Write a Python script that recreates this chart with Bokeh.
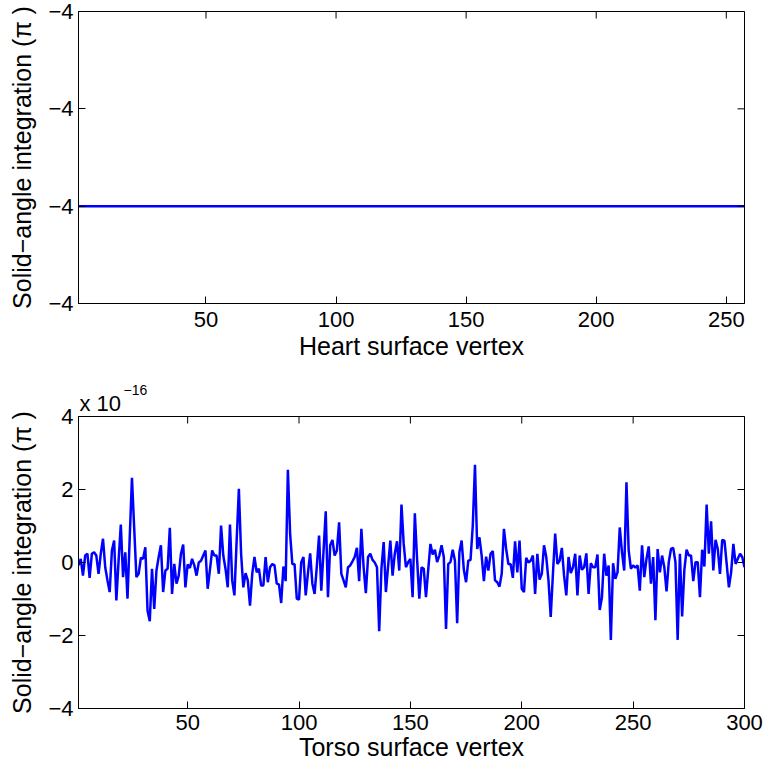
import numpy as np
from bokeh.plotting import figure
from bokeh.layouts import column
from bokeh.models import Range1d, FixedTicker, Title
from bokeh.embed import file_html
from bokeh.resources import INLINE

# ---------------- data ----------------
heart_vertex_count = 257
heart_values = [-4.0] * heart_vertex_count          # solid-angle integration (pi)
heart_x_ticks = [50, 100, 150, 200, 250]
# y ticks of the heart panel: offsets from -4 in units of one float eps (all print as -4)
heart_y_ticks = [-1, 0, 1, 2]
heart_y_tick_labels = ["\u22124", "\u22124", "\u22124", "\u22124"]

# torso values in units of 1e-16 (pi)
torso_values = [
    -0.08, 0.10, -0.36, 0.19, 0.24, -0.42, 0.24, 0.28, 0.19, -0.31,
    0.24, 0.65, -0.13, -0.49, -0.81, 0.33, 0.60, -1.04, 0.05, 1.04,
    -0.40, 0.28, -0.99, 0.69, 2.32, 0.95, -0.40, -0.31, 0.13, 0.10,
    0.42, -1.32, -1.61, -0.17, -1.27, -0.22, 0.15, 0.47, -0.81, -0.22,
    -0.17, 0.95, -0.86, -0.04, -0.58, -0.36, 0.24, 0.49, -0.68, -0.05,
    -0.15, 0.10, -0.08, -0.36, 0.00, 0.05, 0.19, 0.33, -0.72, -0.20,
    0.33, 0.19, 0.19, -0.31, 1.01, 0.19, -0.17, -0.68, 1.04, -0.49,
    -0.90, 0.60, 2.02, 0.24, -0.68, -0.29, -0.49, -1.18, -0.31, 0.15,
    -0.27, -0.17, -0.63, -0.63, 0.15, -0.54, -0.13, -0.04, -0.08, -0.58,
    -0.60, -1.11, -0.11, -0.51, 2.54, 0.79, -0.04, -0.05, -0.99, -1.02,
    0.01, 0.15, -0.90, -0.30, 0.25, -0.58, -0.86, -0.10, 0.74, -0.77,
    0.30, 1.40, -0.95, 0.47, 0.62, 0.19, 0.33, 1.10, -0.31, -0.49,
    -0.68, -0.13, -0.08, 0.03, 0.15, 0.40, -0.51, 0.92, -0.13, -0.84,
    0.15, 0.24, 0.07, 0.00, -0.13, -1.88, -0.17, 0.56, -0.81, -0.10,
    0.60, -0.36, 0.24, 0.58, -0.22, 1.59, 0.51, -0.13, 0.01, 0.10,
    -0.95, 1.35, 0.10, -0.99, -0.13, -0.17, -0.95, -0.20, 0.51, 0.22,
    0.35, 0.01, 0.19, 0.47, 0.15, -1.82, -0.04, 0.01, 0.35, 0.05,
    -1.66, 0.28, 0.60, -0.20, -0.54, 0.05, 0.07, 1.00, 2.68, 0.37,
    0.69, 0.19, -0.51, 0.16, -0.22, 0.24, 0.31, -0.49, -0.54, -0.66,
    -0.31, 0.92, 0.37, -0.04, -0.05, -0.42, 0.58, -0.27, 0.60, -0.72,
    -0.81, 0.13, 0.00, 0.05, 0.19, -0.86, 0.24, -0.47, -0.31, 0.47,
    0.15, -0.49, -1.49, -0.30, 0.79, -0.04, 0.05, 0.40, -0.36, -0.90,
    0.15, -0.29, -0.13, 0.24, -0.90, 0.19, -0.20, -0.13, 0.25, -0.86,
    -0.02, -0.13, -0.13, 0.22, -1.30, -0.95, 0.24, -0.36, -0.08, -2.12,
    -0.02, -0.45, -0.27, 0.96, 0.28, -0.22, 2.20, 0.33, -0.17, -0.08,
    -0.14, -0.08, -0.77, 0.47, -0.40, 0.10, 0.44, -0.58, 0.15, -1.58,
    0.37, -0.27, 0.19, -0.13, -0.79, 0.01, 0.37, 0.40, 0.01, -2.12,
    0.24, -1.48, -0.20, 0.35, 0.19, 0.19, -0.51, 0.01, 0.01, -0.95,
    0.35, -0.11, 1.59, 0.24, 1.13, -0.22, 0.62, 0.37, -0.31, 0.62,
    0.60, -0.04, -0.68, -0.27, 0.51, -0.04, 0.10, 0.24, 0.15, -0.13,
]
torso_x_ticks = [50, 100, 150, 200, 250, 300]
torso_y_ticks = [-4, -2, 0, 2, 4]
torso_y_tick_labels = ["\u22124", "\u22122", "0", "2", "4"]
torso_exponent_base = "x 10"
torso_exponent = "\u221216"

FONT = "Liberation Sans"
BLUE = "#0000ff"
EPS4 = 8.881784197001252e-16  # spacing of doubles just above 4
YLABEL = "Solid\u2212angle integration (\u03c0 )"


def style_axis(ax, ticks, labels=None):
    ax.ticker = FixedTicker(ticks=ticks)
    ax.major_tick_in = 7
    ax.major_tick_out = 0
    ax.minor_tick_in = 0
    ax.minor_tick_out = 0
    ax.axis_line_color = "black"
    ax.axis_line_width = 1
    ax.major_tick_line_color = "black"
    ax.major_tick_line_width = 1
    ax.major_label_text_font = FONT
    ax.major_label_text_font_size = "22px"
    ax.major_label_text_color = "black"
    ax.axis_label_text_font = FONT
    ax.axis_label_text_font_style = "normal"
    ax.axis_label_text_font_size = "25px"
    ax.axis_label_text_color = "black"
    if labels is not None:
        ax.major_label_overrides = {t: l for t, l in zip(ticks, labels)}


def make_fig(height, top, bottom, xmax, yr):
    p = figure(width=766, height=height, output_backend="svg", toolbar_location=None,
               x_range=Range1d(1, xmax), y_range=yr,
               min_border_left=78, min_border_right=22,
               min_border_top=top, min_border_bottom=bottom,
               background_fill_color="white", border_fill_color="white")
    p.xgrid.visible = False
    p.ygrid.visible = False
    p.outline_line_color = "black"
    p.outline_line_width = 1
    p.outline_line_alpha = 1
    return p


def mirror_ticks(p, xticks, yticks, xmax, ytop):
    # inward ticks on the top and right edges (half of each dash is clipped by the frame)
    p.scatter(xticks, [ytop] * len(xticks), marker="dash", size=14, angle=np.pi / 2,
              line_color="black", line_width=1)
    p.scatter([xmax] * len(yticks), yticks, marker="dash", size=14,
              line_color="black", line_width=1)


# ---------------- top: heart ----------------
hx = np.arange(1, heart_vertex_count + 1)
hy = (np.array(heart_values) - (-4.0)) / EPS4   # offset from -4 in eps units
p1 = make_fig(376, 11, 73, heart_vertex_count, Range1d(heart_y_ticks[0], heart_y_ticks[-1]))
p1.line(hx, hy, line_color=BLUE, line_width=2.5)
style_axis(p1.xaxis[0], heart_x_ticks)
style_axis(p1.yaxis[0], heart_y_ticks, heart_y_tick_labels)
p1.xaxis[0].axis_label = "Heart surface vertex"
p1.yaxis[0].axis_label = YLABEL
p1.xaxis[0].major_label_standoff = 8
p1.xaxis[0].axis_label_standoff = 2
p1.yaxis[0].major_label_standoff = 5
p1.yaxis[0].axis_label_standoff = 9
mirror_ticks(p1, heart_x_ticks, heart_y_ticks, heart_vertex_count, heart_y_ticks[-1])

# ---------------- bottom: torso ----------------
tx = np.arange(1, len(torso_values) + 1)
p2 = make_fig(392, 40, 60, len(torso_values), Range1d(torso_y_ticks[0], torso_y_ticks[-1]))
p2.line(tx, torso_values, line_color=BLUE, line_width=2.5)
style_axis(p2.xaxis[0], torso_x_ticks)
style_axis(p2.yaxis[0], torso_y_ticks, torso_y_tick_labels)
p2.xaxis[0].axis_label = "Torso surface vertex"
p2.yaxis[0].axis_label = YLABEL
p2.xaxis[0].major_label_standoff = 6
p2.xaxis[0].axis_label_standoff = 0
p2.yaxis[0].major_label_standoff = 5
p2.yaxis[0].axis_label_standoff = 9
mirror_ticks(p2, torso_x_ticks, torso_y_ticks, len(torso_values), torso_y_ticks[-1])

# exponent "x 10^-16": inner title holds "x 10", the plot title (outermost) the superscript
base = Title(text=torso_exponent_base, align="left", offset=1, standoff=2,
             text_font=FONT, text_font_size="22px", text_font_style="normal",
             text_color="black")
p2.add_layout(base, "above")
p2.title.text = torso_exponent
p2.title.align = "left"
p2.title.offset = 45
p2.title.standoff = -15
p2.title.text_font = FONT
p2.title.text_font_size = "14px"
p2.title.text_font_style = "normal"
p2.title.text_color = "black"

layout = column(p1, p2, spacing=0)
open("out.html", "w").write(file_html(layout, INLINE))
